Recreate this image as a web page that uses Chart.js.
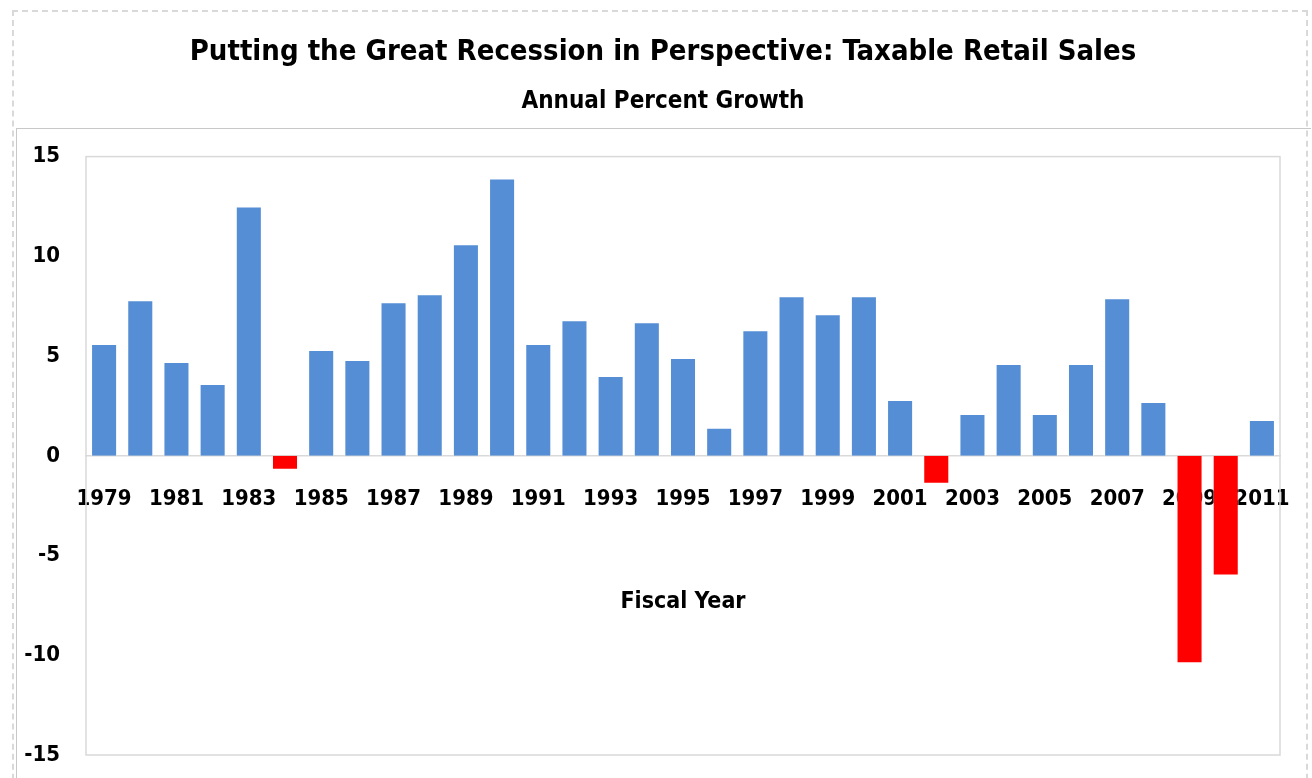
<!DOCTYPE html>
<html>
<head>
<meta charset="utf-8">
<script src="https://cdn.jsdelivr.net/npm/chart.js@4.4.1/dist/chart.umd.min.js"></script>
<style>
  html, body { margin: 0; padding: 0; background: #fff; }
  #wrap { position: relative; width: 1312px; height: 778px; overflow: hidden; }
  #outer { position: absolute; left: 12px; top: 10px; width: 1296px; height: 800px; border: 2px dashed #d9d9d9; box-sizing: border-box; }
  #inner { position: absolute; left: 16px; top: 128px; width: 1294px; height: 700px; border-top: 1px solid #c8c8c8; border-left: 1px solid #c8c8c8; }
  canvas { position: absolute; left: 0; top: 0; }
</style>
</head>
<body>
<div id="wrap">
  <div id="outer"></div>
  <div id="inner"></div>
  <canvas id="chart" width="1312" height="778"></canvas>
</div>
<script>
/* ── Data ── */
const years = ['1979','1980','1981','1982','1983','1984','1985','1986','1987','1988','1989',
               '1990','1991','1992','1993','1994','1995','1996','1997','1998','1999','2000',
               '2001','2002','2003','2004','2005','2006','2007','2008','2009','2010','2011'];
const growth = [5.6, 7.8, 4.7, 3.6, 12.5, -0.7, 5.3, 4.8, 7.7, 8.1, 10.6,
                13.9, 5.6, 6.8, 4.0, 6.7, 4.9, 1.4, 6.3, 8.0, 7.1, 8.0,
                2.8, -1.4, 2.1, 4.6, 2.1, 4.6, 7.9, 2.7, -10.4, -6.0, 1.8];
const yTicks = [-15, -10, -5, 0, 5, 10, 15];

const FONT = '"DejaVu Sans Condensed", "Liberation Sans Narrow", sans-serif';
const BLUE = '#558ed5';
const RED  = '#ff0000';

/* ── Plot frame ── */
const plotFrame = {
  id: 'plotFrame',
  afterLayout(chart) {
    // centre title + subtitle over the middle of the frame, like the original
    chart.boxes.forEach(b => {
      if (b.fullSize && b.position === 'top') b.left += 30;
    });
  },
  beforeDatasetsDraw(chart) {
    const { ctx, chartArea: a } = chart;
    ctx.save();
    ctx.strokeStyle = '#d9d9d9';
    ctx.lineWidth = 1.5;
    ctx.strokeRect(a.left, a.top, a.right - a.left, a.bottom - a.top);
    ctx.restore();
  }
};

new Chart(document.getElementById('chart'), {
  type: 'bar',
  data: {
    labels: years,
    datasets: [{
      data: growth,
      backgroundColor: c => (growth[c.dataIndex] < 0 ? RED : BLUE),
      borderColor: 'rgba(255,255,255,0.55)',
      borderWidth: 1,
      categoryPercentage: 1,
      barPercentage: 0.72,
    }]
  },
  options: {
    responsive: false,
    animation: false,
    devicePixelRatio: 1,
    layout: { padding: { left: 16, right: 32, top: 0, bottom: 23 } },
    plugins: {
      legend: { display: false },
      tooltip: { enabled: false },
      title: {
        display: true,
        text: 'Putting the Great Recession in Perspective: Taxable Retail Sales',
        color: '#000',
        font: { family: FONT, size: 29, weight: 'bold' },
        padding: { top: 35, bottom: 0 }
      },
      subtitle: {
        display: true,
        text: 'Annual Percent Growth',
        color: '#000',
        font: { family: FONT, size: 24, weight: 'bold' },
        padding: { top: 18, bottom: 40 }
      }
    },
    scales: {
      x: {
        position: { y: 0 },
        z: 1,
        afterFit: s => { s.paddingLeft = 0; s.paddingRight = 0; },
        grid: { display: false, drawTicks: false },
        border: { display: true, color: '#d9d9d9', width: 1.5 },
        ticks: {
          color: '#000',
          font: { family: FONT, size: 22, weight: 'bold' },
          padding: 30,
          maxRotation: 0,
          autoSkip: false,
          callback: (v, i) => (i % 2 === 0 ? years[i] : '')
        },
        title: {
          display: true,
          text: 'Fiscal Year',
          color: '#000',
          font: { family: FONT, size: 23, weight: 'bold' },
          padding: { top: 46, bottom: 0 }
        }
      },
      y: {
        min: yTicks[0],
        max: yTicks[yTicks.length - 1],
        afterBuildTicks: s => { s.ticks = yTicks.map(v => ({ value: v })); },
        afterFit: s => { s.width = 70; s.paddingTop = 0; s.paddingBottom = 0; },
        grid: { display: false, drawTicks: false },
        border: { display: false },
        ticks: {
          color: '#000',
          font: { family: FONT, size: 22, weight: 'bold' },
          padding: 26
        }
      }
    }
  },
  plugins: [plotFrame]
});
</script>
</body>
</html>
